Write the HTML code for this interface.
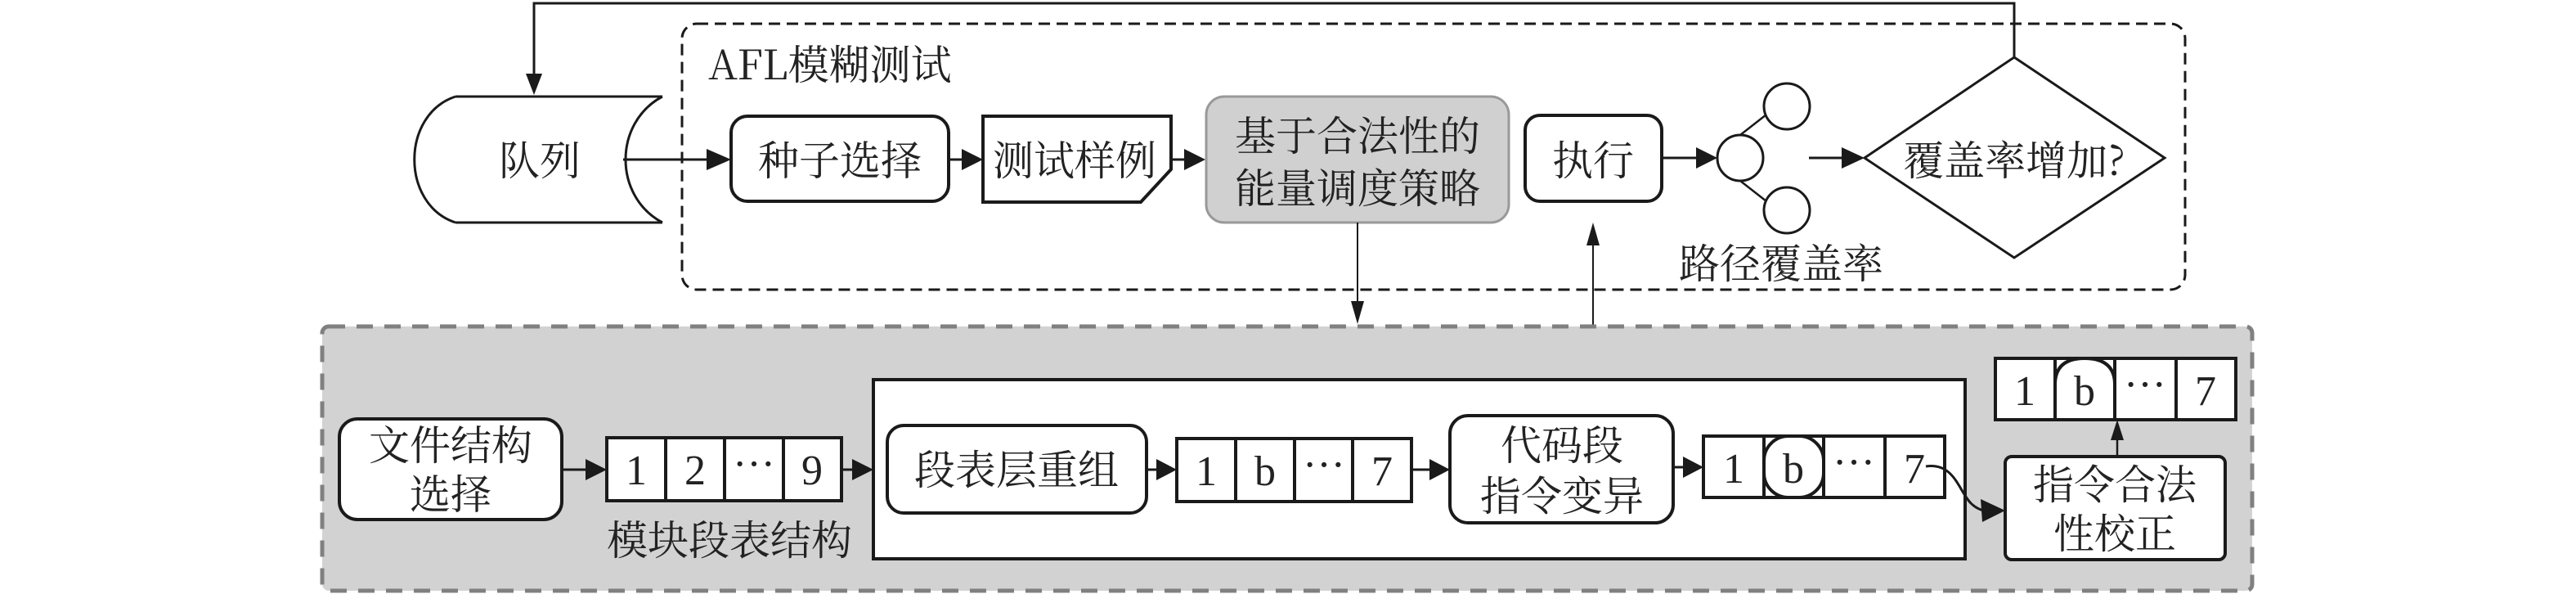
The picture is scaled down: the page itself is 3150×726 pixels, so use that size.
<!DOCTYPE html>
<html><head><meta charset="utf-8"><style>
html,body{margin:0;padding:0;background:#fff;width:3150px;height:726px;overflow:hidden}
text{font-family:"Noto Serif CJK SC","Liberation Serif","Noto Sans CJK SC",serif;fill:#222}
.d{font-family:"Liberation Serif",serif}
</style></head><body>
<svg width="3150" height="726" viewBox="0 0 3150 726" xmlns="http://www.w3.org/2000/svg">
<!-- feedback loop -->
<path d="M2463 70 V4 H653 V112" fill="none" stroke="#1a1a1a" stroke-width="3"/>
<path d="M643 90 L653 116 L663 90 Z" fill="#1a1a1a"/>
<!-- AFL dashed box -->
<rect x="834" y="29" width="1838" height="325" rx="18" fill="none" stroke="#1a1a1a" stroke-width="3" stroke-dasharray="14,8"/>
<text x="866" y="97" font-size="50">AFL模糊测试</text>
<!-- queue -->
<path d="M557 118 H810 M557 272 H810 M557 118 C490 140 490 250 557 272 M810 118 C750 150 750 240 810 272" fill="none" stroke="#1a1a1a" stroke-width="3"/>
<text x="660" y="214" font-size="50" text-anchor="middle">队列</text>
<line x1="762" y1="195" x2="868" y2="195" stroke="#1a1a1a" stroke-width="3"/>
<path d="M864 182 L894 195 L864 208 Z" fill="#1a1a1a"/>
<rect x="894" y="142" width="266" height="104" rx="20" fill="#fff" stroke="#1a1a1a" stroke-width="4"/>
<text x="1027" y="214" font-size="50" text-anchor="middle">种子选择</text>
<line x1="1160" y1="195" x2="1180" y2="195" stroke="#1a1a1a" stroke-width="3"/>
<path d="M1176 182 L1202 195 L1176 208 Z" fill="#1a1a1a"/>
<path d="M1202 142 H1432 V207 L1395 247 H1202 Z" fill="#fff" stroke="#1a1a1a" stroke-width="4"/>
<text x="1314" y="214" font-size="50" text-anchor="middle">测试样例</text>
<line x1="1432" y1="195" x2="1452" y2="195" stroke="#1a1a1a" stroke-width="3"/>
<path d="M1448 182 L1474 195 L1448 208 Z" fill="#1a1a1a"/>
<rect x="1475" y="118" width="370" height="154" rx="22" fill="#d0d0d0" stroke="#999" stroke-width="3"/>
<text x="1660" y="184" font-size="50" text-anchor="middle">基于合法性的</text>
<text x="1660" y="248" font-size="50" text-anchor="middle">能量调度策略</text>
<rect x="1865" y="141" width="167" height="105" rx="18" fill="#fff" stroke="#1a1a1a" stroke-width="4"/>
<text x="1948" y="214" font-size="50" text-anchor="middle">执行</text>
<line x1="2032" y1="193" x2="2080" y2="193" stroke="#1a1a1a" stroke-width="3"/>
<path d="M2074 180 L2100 193 L2074 206 Z" fill="#1a1a1a"/>
<line x1="2128" y1="165" x2="2160" y2="140" stroke="#1a1a1a" stroke-width="2.5"/>
<line x1="2128" y1="221" x2="2160" y2="246" stroke="#1a1a1a" stroke-width="2.5"/>
<ellipse cx="2128" cy="193" rx="28" ry="28" fill="#fff" stroke="#1a1a1a" stroke-width="3"/>
<ellipse cx="2185" cy="130" rx="28" ry="28" fill="#fff" stroke="#1a1a1a" stroke-width="3"/>
<ellipse cx="2185" cy="257" rx="28" ry="28" fill="#fff" stroke="#1a1a1a" stroke-width="3"/>
<line x1="2212" y1="193" x2="2256" y2="193" stroke="#1a1a1a" stroke-width="3"/>
<path d="M2252 180 L2280 193 L2252 206 Z" fill="#1a1a1a"/>
<path d="M2463 70 L2647 193 L2463 315 L2280 193 Z" fill="#fff" stroke="#1a1a1a" stroke-width="3"/>
<text x="2463" y="214" font-size="50" text-anchor="middle">覆盖率增加?</text>
<text x="2178" y="340" font-size="50" text-anchor="middle">路径覆盖率</text>
<!-- connectors between boxes -->
<line x1="1660" y1="272" x2="1660" y2="380" stroke="#1a1a1a" stroke-width="2"/>
<path d="M1652 368 L1660 396 L1668 368 Z" fill="#1a1a1a"/>
<line x1="1948" y1="398" x2="1948" y2="290" stroke="#1a1a1a" stroke-width="2"/>
<path d="M1940 300 L1948 272 L1956 300 Z" fill="#1a1a1a"/>
<!-- bottom gray box -->
<rect x="394" y="399" width="2360" height="323" rx="8" fill="#d2d2d2" stroke="#808080" stroke-width="5" stroke-dasharray="20,14"/>
<rect x="415" y="512" width="272" height="123" rx="22" fill="#fff" stroke="#1a1a1a" stroke-width="4"/>
<text x="551" y="562" font-size="50" text-anchor="middle">文件结构</text>
<text x="551" y="622" font-size="50" text-anchor="middle">选择</text>
<line x1="687" y1="574" x2="720" y2="574" stroke="#1a1a1a" stroke-width="3"/>
<path d="M716 561 L742 574 L716 587 Z" fill="#1a1a1a"/>
<g stroke="#1a1a1a" stroke-width="4" fill="#fff">
<rect x="742" y="535" width="287" height="77"/>
<line x1="814" y1="535" x2="814" y2="612"/><line x1="886" y1="535" x2="886" y2="612"/><line x1="958" y1="535" x2="958" y2="612"/>
</g>
<g font-size="52" text-anchor="middle" class="d">
<text class="d" x="778" y="592">1</text><text class="d" x="850" y="592">2</text><text class="d" x="922" y="584">···</text><text class="d" x="993" y="592">9</text>
</g>
<text x="892" y="678" font-size="50" text-anchor="middle">模块段表结构</text>
<line x1="1029" y1="574" x2="1048" y2="574" stroke="#1a1a1a" stroke-width="3"/>
<path d="M1042 561 L1068 574 L1042 587 Z" fill="#1a1a1a"/>
<rect x="1068" y="464" width="1335" height="219" fill="#fff" stroke="#1a1a1a" stroke-width="4"/>
<rect x="1085" y="520" width="317" height="107" rx="20" fill="#fff" stroke="#1a1a1a" stroke-width="4"/>
<text x="1243" y="592" font-size="50" text-anchor="middle">段表层重组</text>
<line x1="1402" y1="574" x2="1420" y2="574" stroke="#1a1a1a" stroke-width="3"/>
<path d="M1414 561 L1439 574 L1414 587 Z" fill="#1a1a1a"/>
<g stroke="#1a1a1a" stroke-width="4" fill="#fff">
<rect x="1439" y="536" width="287" height="77"/>
<line x1="1511" y1="536" x2="1511" y2="613"/><line x1="1583" y1="536" x2="1583" y2="613"/><line x1="1654" y1="536" x2="1654" y2="613"/>
</g>
<g font-size="52" text-anchor="middle">
<text class="d" x="1475" y="593">1</text><text class="d" x="1547" y="593">b</text><text class="d" x="1619" y="585">···</text><text class="d" x="1690" y="593">7</text>
</g>
<line x1="1726" y1="574" x2="1752" y2="574" stroke="#1a1a1a" stroke-width="3"/>
<path d="M1748 561 L1773 574 L1748 587 Z" fill="#1a1a1a"/>
<rect x="1773" y="508" width="273" height="131" rx="22" fill="#fff" stroke="#1a1a1a" stroke-width="4"/>
<text x="1910" y="562" font-size="50" text-anchor="middle">代码段</text>
<text x="1910" y="624" font-size="50" text-anchor="middle">指令变异</text>
<line x1="2046" y1="571" x2="2062" y2="571" stroke="#1a1a1a" stroke-width="3"/>
<path d="M2058 558 L2083 571 L2058 584 Z" fill="#1a1a1a"/>
<g stroke="#1a1a1a" stroke-width="4" fill="#fff">
<rect x="2083" y="533" width="295" height="75"/>
<line x1="2157" y1="533" x2="2157" y2="608"/><line x1="2230" y1="533" x2="2230" y2="608"/><line x1="2305" y1="533" x2="2305" y2="608"/>
<rect x="2157" y="533" width="73" height="75" rx="30"/>
</g>
<g font-size="52" text-anchor="middle">
<text class="d" x="2120" y="590">1</text><text class="d" x="2193" y="590">b</text><text class="d" x="2267" y="582">···</text><text class="d" x="2341" y="590">7</text>
</g>
<path d="M2355 570 C2390 565 2395 600 2410 615 C2420 625 2430 625 2440 625" fill="none" stroke="#1a1a1a" stroke-width="3"/>
<path d="M2422 610 L2452 624 L2424 638 Z" fill="#1a1a1a"/>
<rect x="2452" y="558" width="269" height="126" rx="8" fill="#fff" stroke="#1a1a1a" stroke-width="4"/>
<text x="2586" y="610" font-size="50" text-anchor="middle">指令合法</text>
<text x="2586" y="670" font-size="50" text-anchor="middle">性校正</text>
<line x1="2589" y1="558" x2="2589" y2="530" stroke="#1a1a1a" stroke-width="2.5"/>
<path d="M2581 538 L2589 513 L2597 538 Z" fill="#1a1a1a"/>
<g stroke="#1a1a1a" stroke-width="4" fill="#fff">
<rect x="2440" y="438" width="294" height="75"/>
<line x1="2513" y1="438" x2="2513" y2="513"/><line x1="2586" y1="438" x2="2586" y2="513"/><line x1="2661" y1="438" x2="2661" y2="513"/>
<path d="M2513 513 V470 Q2513 438 2549 438 Q2586 438 2586 470 V513 Z"/>
</g>
<g font-size="52" text-anchor="middle">
<text class="d" x="2476" y="495">1</text><text class="d" x="2549" y="495">b</text><text class="d" x="2623" y="487">···</text><text class="d" x="2697" y="495">7</text>
</g>
</svg>
</body></html>
